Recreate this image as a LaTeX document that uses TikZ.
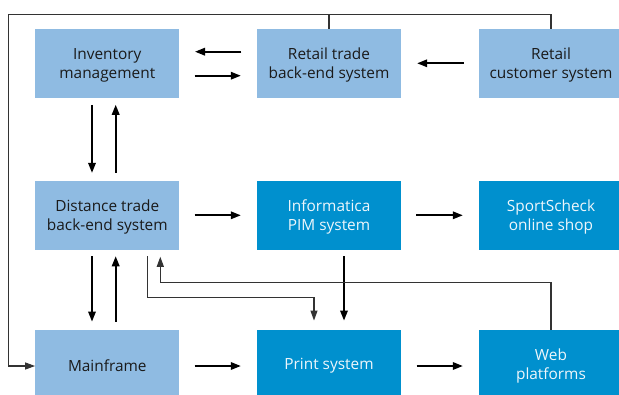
\documentclass[tikz,border=0pt]{standalone}
\usepackage{fontspec}
\setmainfont{Open Sans}
\usetikzlibrary{arrows.meta}
\definecolor{lightbox}{HTML}{8FBBE2}
\definecolor{darkbox}{HTML}{0090CE}
\definecolor{darktext}{HTML}{1A1A1A}
\definecolor{lighttext}{HTML}{EEF6FB}
\definecolor{thinline}{HTML}{333333}
\tikzset{
  box/.style={rectangle, inner sep=0pt, minimum width=144pt, minimum height=68.5pt},
  txt/.style={align=center, inner sep=0pt, yshift=-1.8pt, font=\fontsize{15.4}{19.5}\selectfont},
  lbox/.style={box, fill=lightbox, label={[txt, text=darktext]center:#1}},
  dbox/.style={box, fill=darkbox, label={[txt, text=lighttext]center:#1}},
  bottom/.style={minimum height=64pt},
  arr/.style={draw=black, line width=1.8pt, -{Triangle[length=10pt,width=7.5pt]}},
  thinarr/.style={draw=thinline, line width=1.1pt, -{Triangle[length=10pt,width=7pt]}},
  thin/.style={draw=thinline, line width=1.1pt}
}
\begin{document}
\begin{tikzpicture}[x=1pt,y=-1pt]
\useasboundingbox (0,0) rectangle (619,394);
% row 1
\node[lbox={Inventory\\management}] (inv) at (107.3,63.3) {};
\node[lbox={Retail trade\\back-end system}] (rt) at (329,63.3) {};
\node[lbox={Retail\\customer system}] (rc) at (551,63.3) {};
% row 2
\node[lbox={Distance trade\\back-end system}] (dt) at (107.3,215.3) {};
\node[dbox={Informatica\\PIM system}] (pim) at (329,215.3) {};
\node[dbox={SportScheck\\online shop}] (ss) at (551,215.3) {};
% row 3
\node[bottom,lbox={Mainframe}] (mf) at (107.3,364) {};
\node[bottom,dbox={Print system}] (ps) at (329,364) {};
\node[bottom,dbox={Web\\platforms}] (web) at (551,364) {};

% row 1 arrows
\draw[arr] ([xshift=-15.5pt,yshift=11.6pt]rt.west) -- ([xshift=15.5pt,yshift=11.6pt]inv.east);
\draw[arr] ([xshift=15pt,yshift=-12.4pt]inv.east) -- ([xshift=-16pt,yshift=-12.4pt]rt.west);
\draw[arr] ([xshift=-15pt]rc.west) -- ([xshift=16pt]rt.east);

% inventory <-> distance trade
\draw[arr] ([xshift=-15.3pt,yshift=-7pt]inv.south) -- ([xshift=-15.3pt,yshift=8pt]dt.north);
\draw[arr] ([xshift=8.4pt,yshift=8pt]dt.north) -- ([xshift=8.4pt,yshift=-7pt]inv.south);

% distance trade <-> mainframe
\draw[arr] ([xshift=-15.3pt,yshift=-6.5pt]dt.south) -- ([xshift=-15.3pt,yshift=8pt]mf.north);
\draw[arr] ([xshift=8.4pt,yshift=8pt]mf.north) -- ([xshift=8.4pt,yshift=-6.5pt]dt.south);

% row 2 arrows
\draw[arr] ([xshift=15pt]dt.east) -- ([xshift=-16pt]pim.west);
\draw[arr] ([xshift=15pt]pim.east) -- ([xshift=-16pt]ss.west);

% informatica -> print
\draw[arr] ([xshift=15pt,yshift=-6.5pt]pim.south) -- ([xshift=15pt,yshift=9pt]ps.north);

% distance trade -> print (routed)
\coordinate (d1) at ([xshift=40pt,yshift=-6.5pt]dt.south);
\coordinate (p1) at ([xshift=-15pt,yshift=9pt]ps.north);
\draw[thinarr] (d1) -- (d1 |- 0,297.7) -- (p1 |- 0,297.7) -- (p1);

% web -> distance trade (routed)
\coordinate (d2) at ([xshift=53pt,yshift=-7pt]dt.south);
\draw[thinarr] (web.north) -- (web.north |- 0,282.7) -- (d2 |- 0,282.7) -- (d2);

% row 3 arrows
\draw[arr] ([xshift=15pt,yshift=-2pt]mf.east) -- ([xshift=-16pt,yshift=-2pt]ps.west);
\draw[arr] ([xshift=15.5pt,yshift=-2pt]ps.east) -- ([xshift=-16pt,yshift=-2pt]web.west);

% top feedback line to mainframe
\coordinate (top) at (0,14.3);
\draw[thin] (rt.north) -- (rt.north |- top);
\draw[thinarr] (rc.north) -- (rc.north |- top) -- (8.7,14.3) -- (8.7,366) -- ([yshift=-2pt]mf.west);
\end{tikzpicture}
\end{document}
